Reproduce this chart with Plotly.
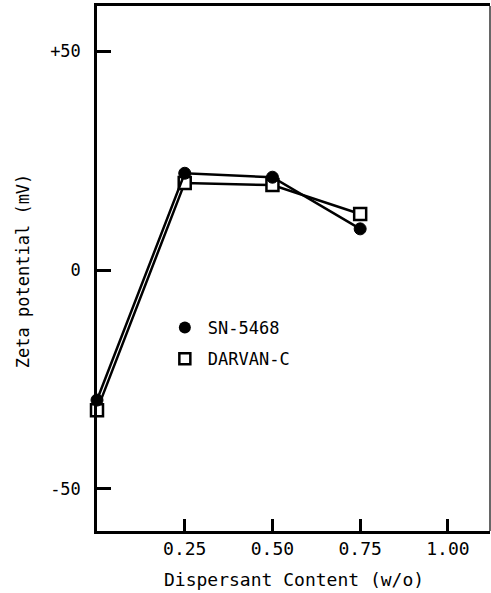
import plotly.graph_objects as go

# Data
dispersant = [0.0, 0.25, 0.50, 0.75]
sn5468 = [-29.7, 22.1, 21.2, 9.4]
darvan_c = [-32.0, 19.9, 19.4, 12.8]

x_tickvals = [0.25, 0.50, 0.75, 1.00]
x_ticktext = ["0.25", "0.50", "0.75", "1.00"]
y_tickvals = [-50, 0, 50]
y_ticktext = ["-50", "0", "+50"]

FONT = "DejaVu Sans Mono"

fig = go.Figure()

# Data series (lines + markers), legend handled by marker-only entries
fig.add_trace(go.Scatter(
    x=dispersant, y=darvan_c, mode="lines+markers", name="DARVAN-C",
    line=dict(color="black", width=2.5),
    marker=dict(symbol="square", size=12, color="white",
                line=dict(color="black", width=2.5)),
    cliponaxis=False, showlegend=False))
fig.add_trace(go.Scatter(
    x=dispersant, y=sn5468, mode="lines+markers", name="SN-5468",
    line=dict(color="black", width=2.5),
    marker=dict(symbol="circle", size=12, color="black",
                line=dict(color="black", width=1)),
    cliponaxis=False, showlegend=False))

# Legend entries (markers only)
fig.add_trace(go.Scatter(
    x=[None], y=[None], mode="markers", name="SN-5468", legendgroup="a",
    marker=dict(symbol="circle", size=12, color="black"),
    showlegend=True))
fig.add_trace(go.Scatter(
    x=[None], y=[None], mode="markers", name="DARVAN-C", legendgroup="b",
    marker=dict(symbol="square", size=11, color="white",
                line=dict(color="black", width=2.5)),
    showlegend=True))

fig.update_layout(
    width=491, height=593,
    margin=dict(l=97, r=1, t=6, b=62),
    paper_bgcolor="white", plot_bgcolor="white",
    font=dict(family=FONT, color="black", size=17),
    legend=dict(x=0.165, y=0.421, xanchor="left", yanchor="top",
                bgcolor="rgba(0,0,0,0)", font=dict(size=17, family=FONT),
                traceorder="grouped", tracegroupgap=6, itemwidth=36),
    xaxis=dict(range=[0, 1.12], tickvals=x_tickvals, ticktext=x_ticktext,
               ticks="inside", ticklen=12, tickwidth=3, tickcolor="black",
               showline=True, linecolor="black", linewidth=2.5, mirror=True,
               showgrid=False, zeroline=False,
               tickfont=dict(size=18, family=FONT), ticklabelstandoff=0),
    yaxis=dict(range=[-59.6, 60.3], tickvals=y_tickvals, ticktext=y_ticktext,
               ticks="inside", ticklen=14, tickwidth=2.5, tickcolor="black",
               showline=True, linecolor="black", linewidth=2.5, mirror=False,
               showgrid=False, zeroline=False,
               tickfont=dict(size=17, family=FONT), ticklabelstandoff=10),
    shapes=[dict(type="line", xref="paper", yref="paper", x0=1, x1=1, y0=0, y1=1,
                 line=dict(color="black", width=1.2))],
    annotations=[
        dict(text="Dispersant Content (w/o)", xref="paper", yref="paper",
             x=0.5, y=-0.0933, xanchor="center", yanchor="middle",
             showarrow=False, font=dict(size=18, family=FONT)),
        dict(text="Zeta potential (mV)", xref="paper", yref="paper",
             x=(23 - 97) / 393, y=0.495, xanchor="center", yanchor="middle",
             textangle=-90, showarrow=False, font=dict(size=17, family=FONT)),
    ],
)

fig.write_html("out.html")
